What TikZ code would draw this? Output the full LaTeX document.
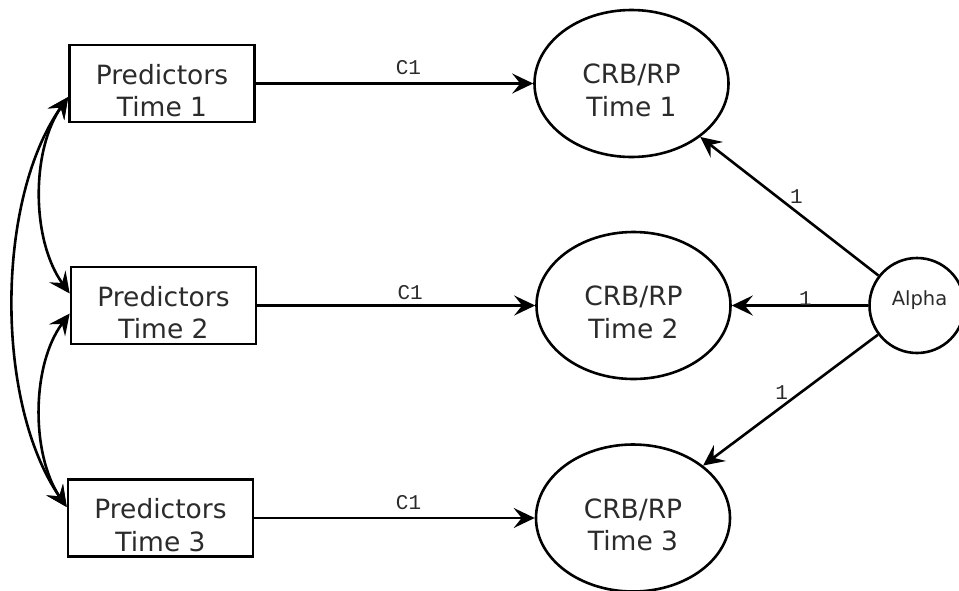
\documentclass[tikz,border=0pt]{standalone}
\usepackage{fontspec}
\setmainfont{DejaVu Sans}
\newfontfamily\coeffont{Liberation Mono}
\usetikzlibrary{arrows.meta,shapes.geometric}
\definecolor{ink}{HTML}{2B2B2B}
\begin{document}
\begin{tikzpicture}[x=1pt,y=-1pt,
  >={Stealth[length=21pt,width=20pt,inset=8pt]},
  stroke/.style={line width=2.6pt},
  predbox/.style={stroke, draw, inner sep=0pt, minimum width=185pt, minimum height=77pt},
  latent/.style={stroke, draw, ellipse, inner sep=0pt, minimum width=194pt, minimum height=147pt},
  factor/.style={stroke, draw, circle, inner sep=0pt, minimum size=95pt},
  caption/.style={text=ink, align=center, inner sep=0pt, font=\fontsize{26.5}{32.5}\selectfont},
  smallcaption/.style={text=ink, inner sep=0pt, font=\fontsize{19.5}{22}\selectfont},
  coef/.style={text=ink, inner sep=0pt, font=\coeffont\fontsize{21}{23}\selectfont},
  link/.style={stroke, ->},
  cov/.style={stroke, <->}
]
\fill[white] (0,0) rectangle (959,590);
\useasboundingbox (0,0) rectangle (959,590);

% observed predictors
\node[predbox] (p1) at (162,83.5) {};
\node[predbox] (p2) at (163.5,305.5) {};
\node[predbox] (p3) at (160.5,518) {};
\node[caption] (p1t) at ([yshift=-7pt]p1.center) {Predictors\\Time 1};
\node[caption] (p2t) at ([yshift=-7pt]p2.center) {Predictors\\Time 2};
\node[caption] (p3t) at ([yshift=-7pt]p3.center) {Predictors\\Time 3};

% latent outcomes
\node[latent] (c1) at (631.5,83.5) {};
\node[latent] (c2) at (633.5,305.5) {};
\node[latent] (c3) at (633,518) {};
\node[caption] (c1t) at ([yshift=-7pt]c1.center) {CRB/RP\\Time 1};
\node[caption] (c2t) at ([yshift=-7pt]c2.center) {CRB/RP\\Time 2};
\node[caption] (c3t) at ([yshift=-7pt]c3.center) {CRB/RP\\Time 3};

% common intercept factor
\node[factor] (alpha) at (917,305.5) {};
\node[smallcaption, anchor=base] (alphat) at ([xshift=2.5pt]alpha.center) {Alpha};

% regression paths
\draw[link] (p1) -- node[coef, pos=0.55, anchor=base, yshift=9pt] (k1) {C1} (c1);
\draw[link] (p2) -- node[coef, pos=0.55, anchor=base, yshift=6pt] (k2) {C1} (c2);
\draw[link] (p3) -- node[coef, pos=0.55, anchor=base, yshift=9pt] (k3) {C1} (c3);

% fixed loadings of the intercept
\draw[link] (alpha) -- node[coef, pos=0.5, xshift=7pt, yshift=9.5pt] (f1) {1} (c1);
\draw[link] (alpha) -- node[coef, pos=0.46, anchor=base, yshift=0.5pt] (f2) {1} (c2);
\draw[link] (alpha) -- node[coef, pos=0.516, xshift=-6pt, yshift=9.4pt] (f3) {1} (c3);

% covariances among predictors
\draw[cov] ([yshift=-13.5pt]p1.west) .. controls (31,150) and (31,240) .. ([yshift=12pt]p2.west);
\draw[cov] ([yshift=-8pt]p2.west) .. controls (31,365) and (31,455) .. ([yshift=11pt]p3.west);
\draw[cov] ([yshift=-13.5pt]p1.west) .. controls (-5,200) and (-5,404) .. ([yshift=11pt]p3.west);
\end{tikzpicture}
\end{document}
